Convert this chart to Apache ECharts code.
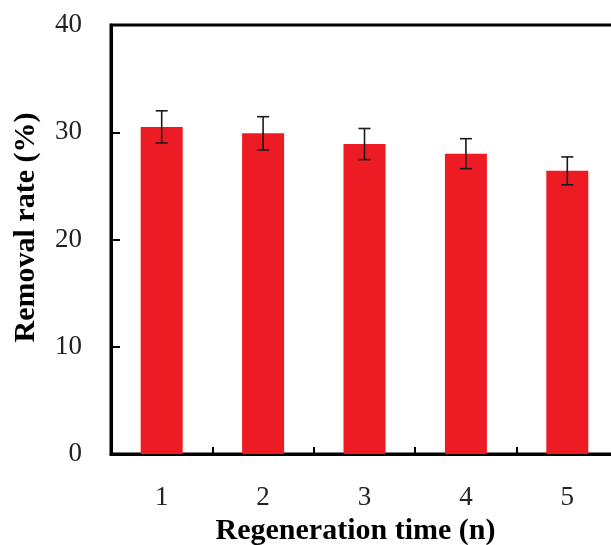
<!DOCTYPE html>
<html>
<head>
<meta charset="utf-8">
<script src="https://cdn.jsdelivr.net/npm/echarts@6/dist/echarts.min.js"></script>
<style>
html,body{margin:0;padding:0;background:#fff;}
#chart{width:611px;height:545px;}
</style>
</head>
<body>
<div id="chart"></div>
<script>
const categories = ['1', '2', '3', '4', '5'];
const removalRate = [30.5, 29.9, 28.9, 28.0, 26.4];
const errorValues = [1.5, 1.55, 1.45, 1.4, 1.3];
const yTicks = [0, 10, 20, 30, 40];

const errorData = categories.map((c, i) => [i, removalRate[i] - errorValues[i], removalRate[i] + errorValues[i]]);

const chart = echarts.init(document.getElementById('chart'), null, {renderer: 'canvas'});
const FONT = '"Liberation Serif", "Times New Roman", serif';

chart.setOption({
  backgroundColor: '#ffffff',
  animation: false,
  grid: {
    left: 111, top: 25, width: 507, height: 429,
    outerBoundsMode: 'none',
    containLabel: false,
    show: true, borderColor: '#000', borderWidth: 3, backgroundColor: 'transparent'
  },
  xAxis: {
    type: 'category',
    data: categories,
    boundaryGap: true,
    name: 'Regeneration time (n)',
    nameLocation: 'middle',
    nameGap: 61,
    nameTextStyle: {fontFamily: FONT, fontWeight: 'bold', fontSize: 30, color: '#000', padding: [0, 18, 0, 0]},
    axisLine: {show: true, lineStyle: {color: '#000', width: 3}},
    axisTick: {show: true, inside: true, length: 7, lineStyle: {color: '#000', width: 2}},
    axisLabel: {fontFamily: FONT, fontSize: 27, color: '#222', margin: 30},
    splitLine: {show: false}
  },
  yAxis: {
    type: 'value',
    min: yTicks[0],
    max: yTicks[yTicks.length - 1],
    interval: 10,
    name: 'Removal rate (%)',
    nameLocation: 'middle',
    nameGap: 70,
    nameTextStyle: {fontFamily: FONT, fontWeight: 'bold', fontSize: 30, color: '#000', padding: [0, 0, 0, 24]},
    axisLine: {show: true, lineStyle: {color: '#000', width: 3}},
    axisTick: {show: true, inside: true, length: 9, lineStyle: {color: '#000', width: 2}},
    axisLabel: {fontFamily: FONT, fontSize: 27, color: '#222', margin: 29},
    splitLine: {show: false}
  },
  series: [
    {
      type: 'bar',
      data: removalRate,
      barWidth: 42,
      itemStyle: {color: '#ED1C24'},
      z: 2
    },
    {
      type: 'custom',
      data: errorData,
      encode: {x: 0, y: [1, 2]},
      z: 5,
      renderItem: function (params, api) {
        const lo = api.coord([api.value(0), api.value(1)]);
        const hi = api.coord([api.value(0), api.value(2)]);
        const hw = 6;
        const style = {stroke: '#1a1a1a', lineWidth: 1.6};
        return {
          type: 'group',
          children: [
            {type: 'line', shape: {x1: hi[0], y1: hi[1], x2: lo[0], y2: lo[1]}, style: style},
            {type: 'line', shape: {x1: hi[0] - hw, y1: hi[1], x2: hi[0] + hw, y2: hi[1]}, style: style},
            {type: 'line', shape: {x1: lo[0] - hw, y1: lo[1], x2: lo[0] + hw, y2: lo[1]}, style: style}
          ]
        };
      }
    }
  ]
});
</script>
</body>
</html>
